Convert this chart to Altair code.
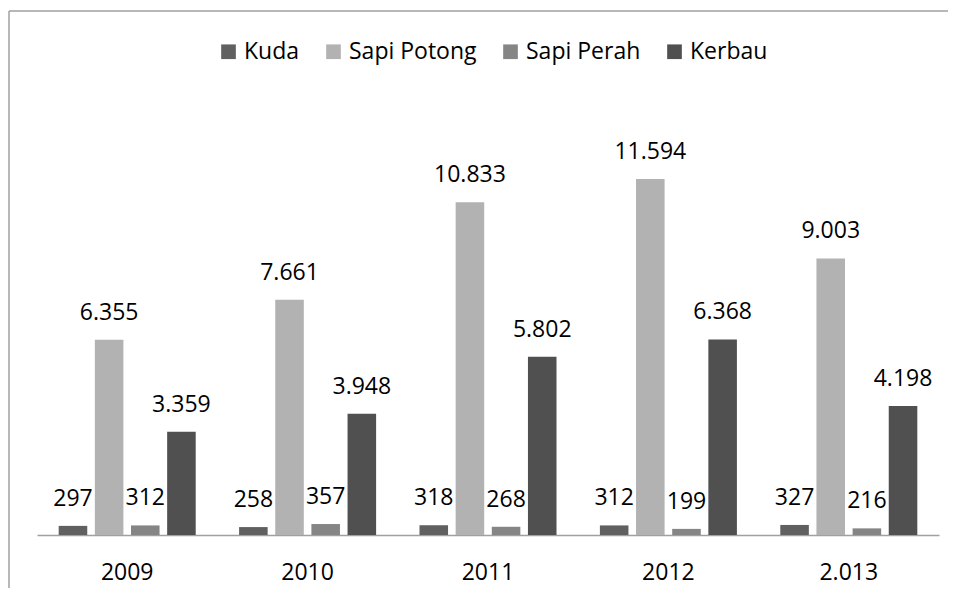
import altair as alt
import pandas as pd

years = ["2009", "2010", "2011", "2012", "2.013"]
series = ["Kuda", "Sapi Potong", "Sapi Perah", "Kerbau"]
kuda = [297, 258, 318, 312, 327]
sapi_potong = [6355, 7661, 10833, 11594, 9003]
sapi_perah = [312, 357, 268, 199, 216]
kerbau = [3359, 3948, 5802, 6368, 4198]
colors = ["#606060", "#b2b2b2", "#858585", "#505050"]

rows = []
for s, vals in zip(series, [kuda, sapi_potong, sapi_perah, kerbau]):
    for y, v in zip(years, vals):
        rows.append({"Tahun": y, "Jenis": s, "Nilai": v,
                     "Label": f"{v:,}".replace(",", ".")})
df = pd.DataFrame(rows)

FONT = "Open Sans"
FS = 23

base = alt.Chart(df).encode(
    x=alt.X("Tahun:N", sort=years,
            scale=alt.Scale(paddingInner=0, paddingOuter=0),
            axis=alt.Axis(title=None, labelAngle=0, ticks=False, labelFont=FONT,
                          labelFontSize=FS, labelColor="#000000",
                          labelBaseline="alphabetic", labelPadding=44,
                          domainColor="#a0a0a0", domainWidth=1.5)),
    xOffset=alt.XOffset("Jenis:N", sort=series,
                        scale=alt.Scale(paddingInner=0.21, paddingOuter=0.6)),
    y=alt.Y("Nilai:Q", scale=alt.Scale(domain=[0, 14000], nice=False), axis=None),
)

bars = base.mark_bar().encode(
    color=alt.Color("Jenis:N", sort=series,
                    scale=alt.Scale(domain=series, range=colors),
                    legend=alt.Legend(title=None, orient="none", direction="horizontal",
                                      legendX=180, legendY=-65,
                                      symbolType="square", symbolSize=215,
                                      symbolStrokeWidth=0, labelFont=FONT,
                                      labelFontSize=FS, labelColor="#000000",
                                      labelOffset=4, columnPadding=22))
)

labels = base.mark_text(baseline="alphabetic", dy=-20, font=FONT, fontSize=FS,
                        color="#000000").encode(text="Label:N")

frame_data = alt.Data(values=[{"a": 1}])
left_line = alt.Chart(frame_data).mark_rule(color="#a0a0a0", strokeWidth=1.5).encode(
    x=alt.value(-28), y=alt.value(-94), y2=alt.value(500))
top_line = alt.Chart(frame_data).mark_rule(color="#a0a0a0", strokeWidth=1.5).encode(
    x=alt.value(-28), x2=alt.value(920), y=alt.value(-94))

chart = alt.layer(bars, labels, left_line, top_line).properties(
    width=902, height=430,
    autosize=alt.AutoSizeParams(type="none"),
    padding={"left": 29, "top": 97, "right": 9, "bottom": 53},
).configure_view(stroke=None)

chart.save("out.html", embed_options={"renderer": "svg", "actions": False})
